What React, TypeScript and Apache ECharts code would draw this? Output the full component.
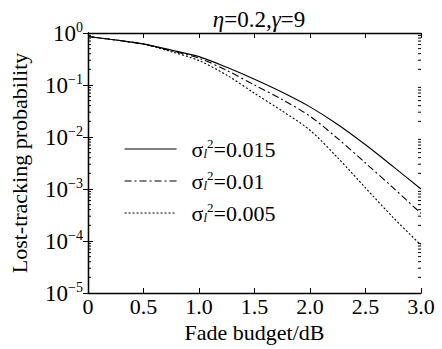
import React, { useEffect, useRef } from "react";
import * as echarts from "echarts";

const xValues = [0, 0.25, 0.5, 0.75, 1.0, 1.25, 1.5, 1.75, 2.0, 2.25, 2.5, 2.75, 3.0];
const seriesNames = ["σl²=0.015", "σl²=0.01", "σl²=0.005"];
const solidValues = [0.857, 0.733, 0.617, 0.468, 0.351, 0.219, 0.129, 0.0724, 0.038, 0.0174, 0.00708, 0.00269, 0.001];
const dashDotValues = [0.857, 0.733, 0.61, 0.457, 0.327, 0.191, 0.1, 0.0525, 0.0251, 0.00933, 0.00316, 0.00105, 0.000339];
const dottedValues = [0.857, 0.733, 0.61, 0.437, 0.295, 0.155, 0.0692, 0.0316, 0.0135, 0.00398, 0.00105, 0.000282, 0.0000832];
const legendLabels = [
  "{s|σ}{sub|l}{sup|2}{s|=0.015}",
  "{s|σ}{sub|l}{sup|2}{s|=0.01}",
  "{s|σ}{sub|l}{sup|2}{s|=0.005}",
];
const xTicks = ["0", "0.5", "1.0", "1.5", "2.0", "2.5", "3.0"];
const yExponents = [0, -1, -2, -3, -4, -5];
const minorTickValues: number[] = [];
for (const e of [-5, -4, -3, -2, -1]) {
  for (const m of [2, 3, 4, 5, 6, 7, 8, 9]) minorTickValues.push(Number((m * Math.pow(10, e)).toPrecision(3)));
}

const FONT = "Liberation Serif";

export default function App() {
  const ref = useRef<HTMLDivElement>(null);
  useEffect(() => {
    if (!ref.current) return;
    const chart = echarts.init(ref.current, null, { renderer: "svg" });
    const mk = (vals: number[]) => xValues.map((x, i) => [x, vals[i]]);
    const lineTypes: any[] = ["solid", [7, 3, 2, 3], [2, 2]];
    const dataSets = [solidValues, dashDotValues, dottedValues];
    const axisLine = { show: true, lineStyle: { color: "#000", width: 1.3 } };
    chart.setOption({
      animation: false,
      backgroundColor: "#fff",
      textStyle: { fontFamily: FONT },
      title: {
        text: "{i|η}{n|=0.2,}{i|γ}{n|=9}",
        left: 254,
        textAlign: "center",
        top: 3,
        textStyle: {
          fontFamily: FONT,
          fontSize: 23,
          fontWeight: "normal",
          color: "#000",
          rich: {
            i: { fontFamily: FONT, fontSize: 23, fontStyle: "italic", color: "#000" },
            n: { fontFamily: FONT, fontSize: 23, color: "#000" },
          },
        },
      },
      grid: { left: 88, right: 21, top: 33, bottom: 56 },
      legend: {
        orient: "vertical",
        left: 124,
        top: 137,
        padding: 0,
        itemWidth: 52,
        itemHeight: 14,
        itemGap: 9,
        data: seriesNames,
        itemStyle: { opacity: 0, borderWidth: 0 },
        lineStyle: { width: 1.1 },
        formatter: (name: string) => legendLabels[seriesNames.indexOf(name)],
        textStyle: {
          fontFamily: FONT,
          color: "#000",
          padding: [0, 0, 0, 10],
          rich: {
            s: { fontFamily: FONT, fontSize: 22, color: "#000" },
            sub: { fontFamily: FONT, fontSize: 13, fontStyle: "italic", color: "#000", padding: [9, 0, 0, 0] },
            sup: { fontFamily: FONT, fontSize: 13, color: "#000", padding: [0, 0, 11, 0] },
          },
        },
      },
      xAxis: [
        {
          type: "value",
          min: 0,
          max: 3,
          interval: 0.5,
          name: "Fade budget/dB",
          nameLocation: "middle",
          nameGap: 26,
          nameTextStyle: { fontFamily: FONT, fontSize: 22, color: "#000" },
          axisLine,
          axisTick: { inside: true, length: 5, lineStyle: { color: "#000" } },
          axisLabel: {
            margin: 2,
            fontFamily: FONT,
            fontSize: 22,
            color: "#000",
            formatter: (v: number) => xTicks[Math.round(v / 0.5)],
          },
          splitLine: { show: false },
        },
        {
          type: "value",
          position: "top",
          min: 0,
          max: 3,
          interval: 0.5,
          axisLine,
          axisTick: { inside: true, length: 5, lineStyle: { color: "#000" } },
          axisLabel: { show: false },
          splitLine: { show: false },
        },
      ],
      yAxis: [
        {
          type: "log",
          logBase: 10,
          min: 1e-5,
          max: 1,
          name: "Lost-tracking probability",
          nameLocation: "middle",
          nameGap: 58,
          nameTextStyle: { fontFamily: FONT, fontSize: 22, color: "#000" },
          axisLine,
          axisTick: { inside: true, length: 5, lineStyle: { color: "#000" } },
          axisLabel: {
            margin: 5,
            formatter: (v: number) => {
              const e = Math.round(Math.log10(v));
              const ex = yExponents.find((k) => k === e);
              return "{b|10}{e|" + (ex === 0 ? "0" : "−" + Math.abs(ex as number)) + "}";
            },
            rich: {
              b: { fontFamily: FONT, fontSize: 23, color: "#000" },
              e: { fontFamily: FONT, fontSize: 14, color: "#000", padding: [0, 0, 12, 0] },
            },
          },
          splitLine: { show: false },
        },
        {
          type: "log",
          logBase: 10,
          min: 1e-5,
          max: 1,
          position: "right",
          axisLine,
          axisTick: { inside: true, length: 5, lineStyle: { color: "#000" } },
          axisLabel: { show: false },
          splitLine: { show: false },
        },
      ],
      series: [
        ...seriesNames.map((name, i) => ({
          name,
          type: "line",
          data: mk(dataSets[i]),
          showSymbol: false,
          symbol: "none",
          smooth: 0.3,
          lineStyle: { color: "#000", width: 1.1, type: lineTypes[i] },
          itemStyle: { color: "#000" },
        })),
        {
          type: "custom",
          name: "minor",
          silent: true,
          data: minorTickValues.map((v) => [0, v]),
          renderItem: (params: any, api: any) => {
            const cs = params.coordSys;
            const y = api.coord([0, api.value(1)])[1];
            const style = { stroke: "#000", lineWidth: 1 };
            return {
              type: "group",
              children: [
                { type: "line", shape: { x1: cs.x, y1: y, x2: cs.x + 3, y2: y }, style },
                { type: "line", shape: { x1: cs.x + cs.width - 3, y1: y, x2: cs.x + cs.width, y2: y }, style },
              ],
            };
          },
        },
      ],
    });
    return () => chart.dispose();
  }, []);
  return <div ref={ref} style={{ position: "fixed", left: 0, top: 0, width: 442, height: 349 }} />;
}
